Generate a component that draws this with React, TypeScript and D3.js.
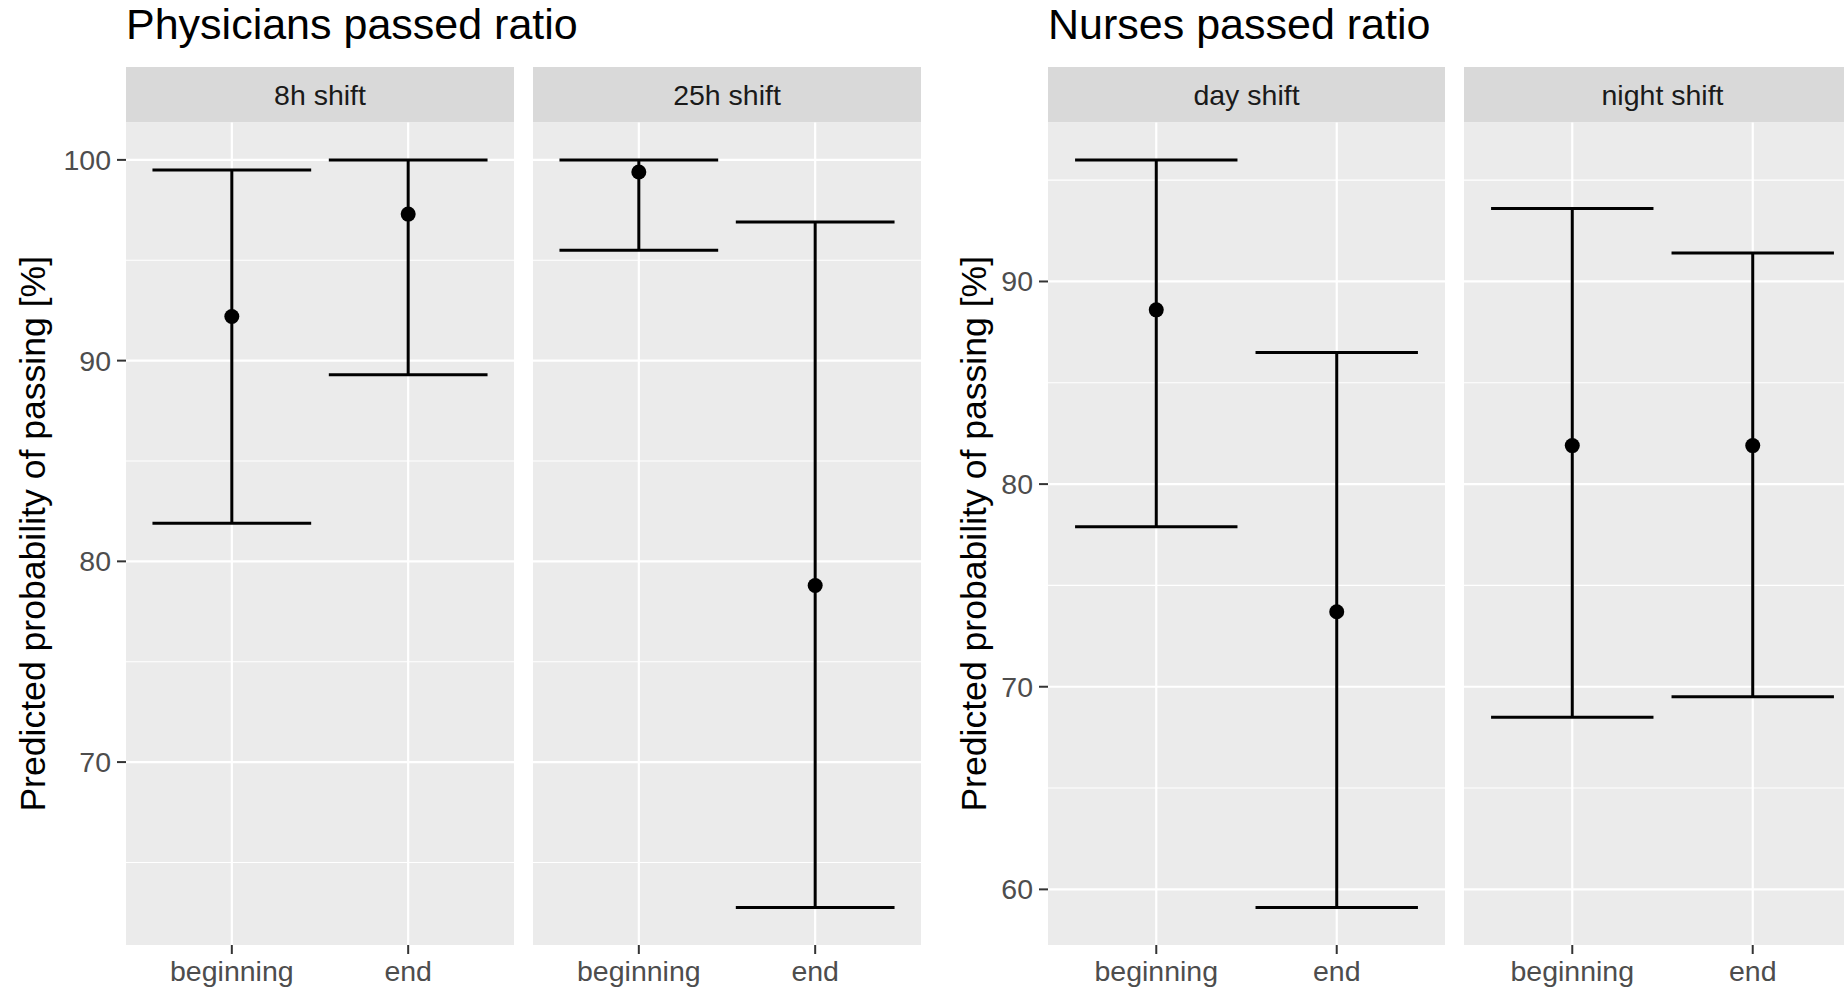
import React from 'react';
import * as d3 from 'd3';

// values
const timepoints = ['beginning', 'end'];

const physFacets = ['8h shift', '25h shift'];
const physEstimate = [92.2, 97.3, 99.4, 78.8];
const physLower = [81.9, 89.3, 95.5, 62.75];
const physUpper = [99.5, 100, 100, 96.9];
const physTicks = [70, 80, 90, 100];

const nurseFacets = ['day shift', 'night shift'];
const nurseEstimate = [88.6, 73.7, 81.9, 81.9];
const nurseLower = [77.9, 59.1, 68.5, 69.5];
const nurseUpper = [96.0, 86.5, 93.6, 91.4];
const nurseTicks = [60, 70, 80, 90];

const FONT = '"Liberation Sans", Arial, sans-serif';

type FacetProps = {
  title: string;
  facets: string[];
  est: number[];
  lo: number[];
  hi: number[];
  ticks: number[];
  x0: number;
  panelW: number;
  axisTitleX: number;
};

const top = 122.5;
const bottom = 945;
const stripTop = 67;
const gap = 19;

const FacetChart = ({ title, facets, est, lo, hi, ticks, x0, panelW, axisTitleX }: FacetProps) => {
  const dmin = d3.min(lo)!;
  const dmax = d3.max(hi)!;
  const pad = (dmax - dmin) * 0.05;
  const y = d3.scaleLinear().domain([dmin - pad, dmax + pad]).range([bottom, top]);
  const step = ticks[1] - ticks[0];
  const minor = ticks.map(t => t - step / 2).concat([ticks[ticks.length - 1] + step / 2])
    .filter(v => v > y.domain()[0] && v < y.domain()[1]);

  return (
    <g>
      <text x={x0} y={39} fontSize={43} fill="#000" fontFamily={FONT}>{title}</text>
      <text
        transform={`translate(${axisTitleX},${(top + bottom) / 2}) rotate(-90)`}
        textAnchor="middle"
        dominantBaseline="central"
        fontSize={35.6}
        fill="#000"
        fontFamily={FONT}
      >Predicted probability of passing [%]</text>
      {ticks.map(t => (
        <g key={t}>
          <line x1={x0 - 9} x2={x0} y1={y(t)} y2={y(t)} stroke="#333" strokeWidth={2} />
          <text x={x0 - 15} y={y(t)} textAnchor="end" dominantBaseline="central"
            fontSize={28.5} fill="#4D4D4D" fontFamily={FONT}>{t}</text>
        </g>
      ))}
      {facets.map((f, i) => {
        const px = x0 + i * (panelW + gap);
        const x = d3.scalePoint().domain(timepoints).range([px, px + panelW]).padding(0.6);
        const bw = x.step() * 0.9;
        return (
          <g key={f}>
            <rect x={px} y={stripTop} width={panelW} height={top - stripTop} fill="#D9D9D9" />
            <text x={px + panelW / 2} y={(stripTop + top) / 2} textAnchor="middle" dominantBaseline="central"
              fontSize={28.5} fill="#1A1A1A" fontFamily={FONT}>{f}</text>
            <rect x={px} y={top} width={panelW} height={bottom - top} fill="#EBEBEB" />
            {minor.map(m => (
              <line key={'m' + m} x1={px} x2={px + panelW} y1={y(m)} y2={y(m)} stroke="#fff" strokeWidth={1.1} />
            ))}
            {ticks.map(t => (
              <line key={'t' + t} x1={px} x2={px + panelW} y1={y(t)} y2={y(t)} stroke="#fff" strokeWidth={2.2} />
            ))}
            {timepoints.map((tp, j) => {
              const cx = x(tp)!;
              const k = i * timepoints.length + j;
              return (
                <g key={tp}>
                  <line x1={cx} x2={cx} y1={top} y2={bottom} stroke="#fff" strokeWidth={2.2} />
                  <line x1={cx} x2={cx} y1={bottom} y2={bottom + 9} stroke="#333" strokeWidth={2} />
                  <text x={cx} y={981} textAnchor="middle" fontSize={28.5} fill="#4D4D4D" fontFamily={FONT}>{tp}</text>
                  <line x1={cx} x2={cx} y1={y(lo[k])} y2={y(hi[k])} stroke="#000" strokeWidth={3} />
                  <line x1={cx - bw / 2} x2={cx + bw / 2} y1={y(lo[k])} y2={y(lo[k])} stroke="#000" strokeWidth={3} />
                  <line x1={cx - bw / 2} x2={cx + bw / 2} y1={y(hi[k])} y2={y(hi[k])} stroke="#000" strokeWidth={3} />
                  <circle cx={cx} cy={y(est[k])} r={7.5} fill="#000" />
                </g>
              );
            })}
          </g>
        );
      })}
    </g>
  );
};

const App = () => (
  <svg width={1844} height={991} style={{ position: 'absolute', left: 0, top: 0, background: '#fff' }}>
    <rect width={1844} height={991} fill="#fff" />
    <FacetChart title="Physicians passed ratio" facets={physFacets} est={physEstimate} lo={physLower}
      hi={physUpper} ticks={physTicks} x0={126} panelW={388} axisTitleX={33} />
    <FacetChart title="Nurses passed ratio" facets={nurseFacets} est={nurseEstimate} lo={nurseLower}
      hi={nurseUpper} ticks={nurseTicks} x0={1048} panelW={397} axisTitleX={974} />
  </svg>
);

export default App;
